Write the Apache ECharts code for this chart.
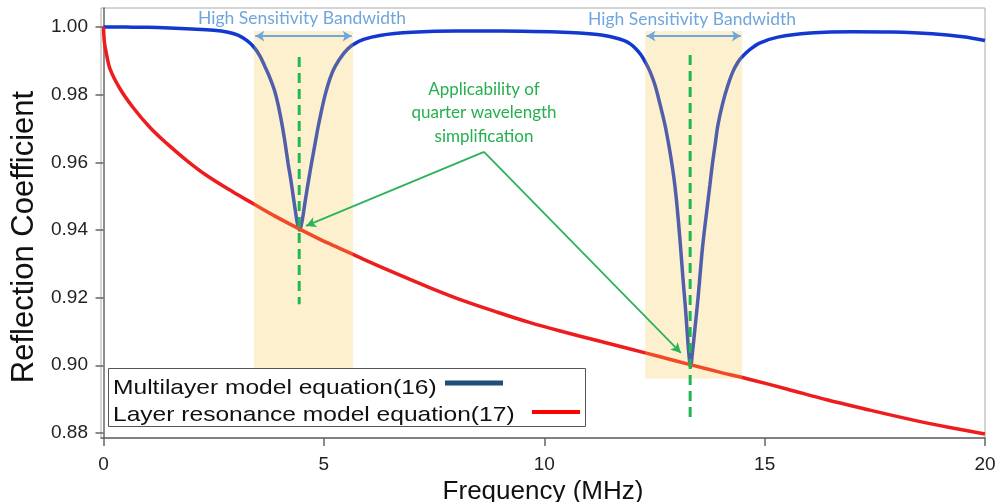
<!DOCTYPE html>
<html><head><meta charset="utf-8">
<script src="https://cdn.jsdelivr.net/npm/echarts@6/dist/echarts.min.js"></script>
<style>html,body{margin:0;padding:0;background:#fff}#c{width:997px;height:502px}</style>
</head><body><div id="c"></div>
<script>
// ---- data ----
const xTicks = [0, 5, 10, 15, 20];
const yTicks = [0.88, 0.90, 0.92, 0.94, 0.96, 0.98, 1.00];

const multilayerFreq = [0, 0.5, 1, 1.5, 2, 2.5, 2.8, 3.05, 3.25, 3.415, 3.55, 3.665, 3.78, 3.89, 3.97, 4.05, 4.12, 4.19, 4.25, 4.30, 4.36, 4.40, 4.44, 4.48, 4.53, 4.57, 4.65, 4.73, 4.80, 4.87, 4.95, 5.03, 5.14, 5.25, 5.45, 5.64, 5.9, 6.27, 7, 8, 8.54, 9.5, 10.3, 10.8, 11.3, 11.6, 11.8, 11.95, 12.06, 12.18, 12.29, 12.4, 12.51, 12.62, 12.74, 12.82, 12.90, 12.96, 13.01, 13.08, 13.15, 13.20, 13.24, 13.28, 13.32, 13.36, 13.42, 13.49, 13.55, 13.60, 13.70, 13.76, 13.81, 13.88, 13.94, 14.05, 14.17, 14.28, 14.40, 14.49, 14.67, 14.9, 15.3, 16.03, 17.0, 17.9, 18.8, 19.5, 20];
const multilayerR = [1.0000, 0.99995, 0.9999, 0.9997, 0.9994, 0.9990, 0.9985, 0.9976, 0.9960, 0.9940, 0.9914, 0.9882, 0.9848, 0.9808, 0.9765, 0.9712, 0.9657, 0.9595, 0.9548, 0.9503, 0.9450, 0.9418, 0.9400, 0.9410, 0.9445, 0.9480, 0.9545, 0.9605, 0.9655, 0.9705, 0.9755, 0.9800, 0.9848, 0.9882, 0.9922, 0.9946, 0.9963, 0.9975, 0.9984, 0.9988, 0.9988, 0.9987, 0.9985, 0.9982, 0.9976, 0.9968, 0.9960, 0.9950, 0.9938, 0.9920, 0.9897, 0.9868, 0.9829, 0.9775, 0.9710, 0.9655, 0.9592, 0.9535, 0.9474, 0.9370, 0.9252, 0.9175, 0.9104, 0.9035, 0.8995, 0.9035, 0.9110, 0.9200, 0.9290, 0.9360, 0.9470, 0.9535, 0.9590, 0.9655, 0.9710, 0.9775, 0.9829, 0.9868, 0.9897, 0.9912, 0.9934, 0.9953, 0.9970, 0.9982, 0.9986, 0.9985, 0.9980, 0.9971, 0.9960];

const resonanceFreq = [0, 0.02, 0.06, 0.15, 0.37, 0.67, 1.06, 1.44, 1.89, 2.35, 2.94, 3.39, 3.9, 4.44, 4.9, 5.37, 5.89, 6.66, 7.41, 8.16, 8.93, 9.68, 10.43, 11.2, 11.95, 12.63, 13.31, 14.0, 14.67, 15.5, 16.41, 17.3, 18.3, 19.2, 20];
const resonanceR = [1.000, 0.9955, 0.9925, 0.9875, 0.9818, 0.9762, 0.9702, 0.9655, 0.9605, 0.9560, 0.9512, 0.9478, 0.9440, 0.9403, 0.9373, 0.9345, 0.9314, 0.9270, 0.9229, 0.9191, 0.9157, 0.9126, 0.9099, 0.9073, 0.9048, 0.9025, 0.9002, 0.8979, 0.8958, 0.8930, 0.8898, 0.8870, 0.8840, 0.8816, 0.8797];

const bandFrom = [3.415, 12.29];
const bandTo = [5.66, 14.49];
const bandTop = [0.9988, 0.9988];
const bandBottom = [0.8992, 0.8960];

const dipFreq = [4.44, 13.31];
const dashTop = [0.9911, 0.9917];
const dashBottom = [0.918, 0.8832];

const arrowBandY = 0.9973;
const noteAnchor = [8.633, 0.96305];
const noteTips = [[4.594, 0.94118], [13.10, 0.90364]];

const legendNames = ['Multilayer model equation(16)', 'Layer resonance model equation(17)'];
const noteLines = ['Applicability of', 'quarter wavelength', 'simplification'];
const bandText = 'High Sensitivity Bandwidth';

// ---- chart ----
const zip = (a, b) => a.map((v, i) => [v, b[i]]);
const chart = echarts.init(document.getElementById('c'), null, {renderer: 'canvas'});
const AF = '"Liberation Sans", Arial, sans-serif';
const CF = 'Lato, "Open Sans", sans-serif';

function txt(x, y, text, o) {
  return Object.assign({type: 'text', x: x, y: y, z: 100,
    style: {text: text, align: o.align || 'left', textAlign: o.align || 'left',
      verticalAlign: 'middle', textVerticalAlign: 'middle', fill: o.fill || '#111', font: o.font}}, o.extra || {});
}

const dashSeries = dipFreq.map((f, i) => ({
  type: 'line', data: [[f, dashTop[i]], [f, dashBottom[i]]], symbol: 'none', z: 4, silent: true,
  lineStyle: {color: '#1fb850', width: 3, type: [10, 6]}
}));

const option = {
  animation: false,
  backgroundColor: '#fff',
  grid: {left: 101, right: 12, top: 8, bottom: 64, outerBoundsMode: 'none', containLabel: false,
         show: true, borderColor: '#aaa', borderWidth: 1, backgroundColor: 'transparent'},
  xAxis: {
    type: 'value', min: -0.057, max: 20,
    name: 'Frequency (MHz)', nameLocation: 'middle', nameGap: 38,
    nameTextStyle: {fontFamily: AF, fontSize: 26, color: '#111'},
    splitLine: {show: false},
    axisLine: {show: true, lineStyle: {color: '#666', width: 1.5}},
    axisTick: {show: true, customValues: xTicks, length: 8, lineStyle: {color: '#666', width: 1.5}},
    axisLabel: {customValues: xTicks, fontFamily: AF, fontSize: 19, color: '#222', margin: 17}
  },
  yAxis: {
    type: 'value', min: 0.8785, max: 1.0056,
    name: 'Reflection Coefficient', nameLocation: 'middle', nameGap: 61, nameRotate: 90,
    nameTextStyle: {fontFamily: AF, fontSize: 31, color: '#111', padding: [0, 28, 0, 0]},
    splitLine: {show: false},
    axisLine: {show: true, lineStyle: {color: '#666', width: 1.5}},
    axisTick: {show: true, customValues: yTicks, length: 8, lineStyle: {color: '#666', width: 1.5}},
    axisLabel: {customValues: yTicks, formatter: v => v.toFixed(2), fontFamily: AF, fontSize: 19, color: '#222', margin: 13}
  },
  series: [
    {name: legendNames[0], type: 'line', data: zip(multilayerFreq, multilayerR), symbol: 'none', smooth: 0.35,
     lineStyle: {color: '#1238d0', width: 3.5}, z: 2, silent: true},
    {name: legendNames[1], type: 'line', data: zip(resonanceFreq, resonanceR), symbol: 'none', smooth: 0.35,
     lineStyle: {color: '#ee1c1c', width: 3.5}, z: 2, silent: true},
    {type: 'custom', z: 3, silent: true,
     data: bandFrom.map((f, i) => [f, bandTo[i], bandTop[i], bandBottom[i]]),
     encode: {x: [0, 1], y: [2, 3]},
     renderItem: (params, api) => {
       const p1 = api.coord([api.value(0), api.value(2)]);
       const p2 = api.coord([api.value(1), api.value(3)]);
       return {type: 'rect', shape: {x: p1[0], y: p1[1], width: p2[0] - p1[0], height: p2[1] - p1[1]},
               style: {fill: 'rgba(247,198,73,0.27)'}};
     }},
    ...dashSeries,
    {type: 'line', data: [], z: 5, silent: true,
     markLine: {silent: true, z: 5, symbol: ['none', 'arrow'], symbolSize: [8, 10], label: {show: false},
       lineStyle: {color: '#2bb35a', width: 1.8, type: 'solid'},
       data: noteTips.map(t => [{coord: noteAnchor}, {coord: t}])}},
    {type: 'line', data: [], z: 5, silent: true,
     markLine: {silent: true, z: 5, symbol: ['arrow', 'arrow'], symbolSize: [8, 9], label: {show: false},
       lineStyle: {color: '#6fa6dc', width: 2, type: 'solid'},
       data: bandFrom.map((f, i) => [{coord: [f + 0.03, arrowBandY]}, {coord: [bandTo[i] - 0.03, arrowBandY]}])}}
  ],
  graphic: [
    {type: 'rect', z: 90, shape: {x: 108.5, y: 368.5, width: 477, height: 58},
     style: {fill: '#fff', stroke: '#555', lineWidth: 1}},
    txt(113, 388, legendNames[0], {font: '21px ' + AF, extra: {scaleX: 1.17}}),
    txt(113, 415, legendNames[1], {font: '21px ' + AF, extra: {scaleX: 1.17}}),
    {type: 'line', z: 100, shape: {x1: 445, y1: 383, x2: 503, y2: 383}, style: {stroke: '#1f4e79', lineWidth: 5}},
    {type: 'line', z: 100, shape: {x1: 532, y1: 412, x2: 580, y2: 412}, style: {stroke: '#ff0000', lineWidth: 4}},
    txt(302, 18, bandText, {font: '17.5px ' + CF, fill: '#6fa6dc', align: 'center'}),
    txt(692, 19, bandText, {font: '17.5px ' + CF, fill: '#6fa6dc', align: 'center'}),
    txt(484, 90, noteLines[0], {font: '17px ' + CF, fill: '#24b04f', align: 'center'}),
    txt(484, 113, noteLines[1], {font: '17px ' + CF, fill: '#24b04f', align: 'center'}),
    txt(484, 137, noteLines[2], {font: '17px ' + CF, fill: '#24b04f', align: 'center'})
  ]
};
chart.setOption(option);
</script>
</body></html>
